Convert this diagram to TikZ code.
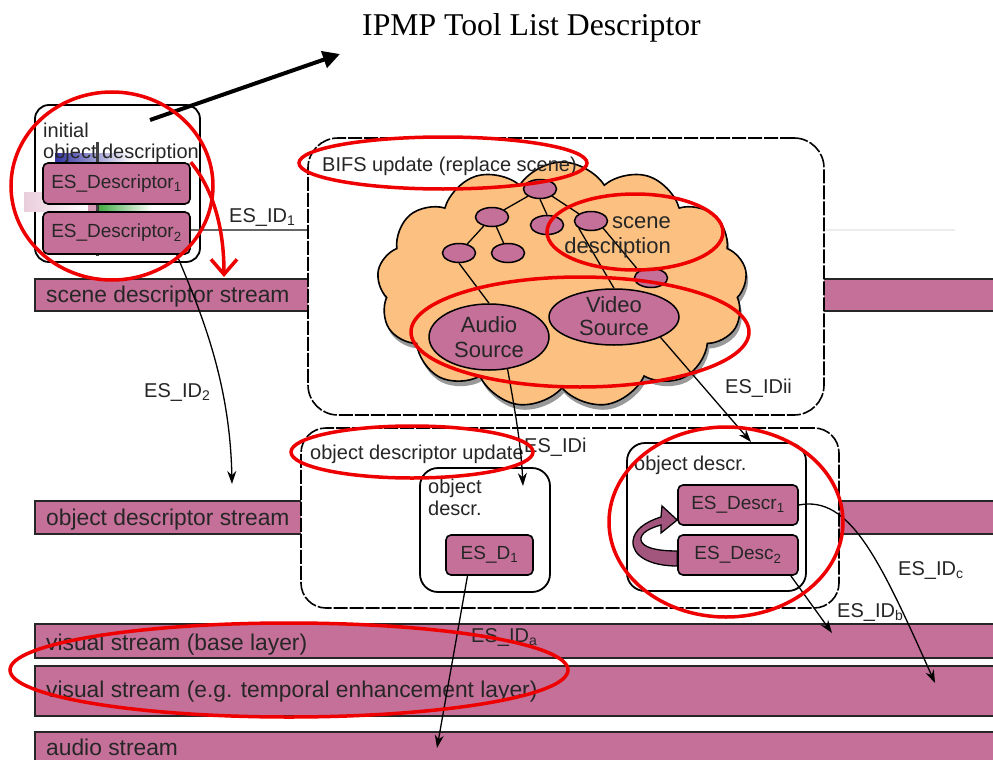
\documentclass[tikz,border=0pt]{standalone}
\usepackage{fontspec}
\setmainfont{Liberation Sans}
\newfontfamily\titleserif{Liberation Serif}
\usetikzlibrary{shapes.geometric,shapes.symbols,arrows.meta}
\definecolor{streampink}{RGB}{196,112,152}
\definecolor{loopmauve}{RGB}{162,86,126}
\definecolor{cloudfill}{RGB}{252,192,128}
\definecolor{markred}{RGB}{238,0,0}
\begin{document}
\begin{tikzpicture}[x=1pt,y=-1pt,
  band/.style={draw=black!85, line width=1.2pt, fill=streampink},
  bandtext/.style={anchor=base west, inner sep=0pt, font=\fontsize{22.8}{24}\selectfont, text=black!85},
  esbox/.style={draw=black, line width=1.6pt, fill=streampink, rounded corners=5pt, inner sep=0pt,
    font=\fontsize{19}{21}\selectfont, text=black!85},
  odbox/.style={draw=black, line width=1.8pt, fill=white, rounded corners=18pt, inner sep=0pt},
  updbox/.style={draw=black, line width=1.6pt, fill=white, dash pattern=on 14pt off 2pt, inner sep=0pt},
  lbl/.style={anchor=base west, inner sep=0pt, font=\fontsize{20}{22}\selectfont, text=black!85},
  biglbl/.style={lbl, font=\fontsize{22}{24}\selectfont},
  sgnode/.style={ellipse, draw=black, line width=1.5pt, fill=streampink, minimum width=33pt,
    minimum height=19pt, inner sep=0pt},
  srcnode/.style={ellipse, draw=black, line width=1.5pt, fill=streampink, inner sep=0pt},
  srctext/.style={anchor=base, inner sep=0pt, font=\fontsize{22}{24}\selectfont, text=black!85},
  sgedge/.style={line width=1.3pt},
  flow/.style={line width=1.3pt, -{Stealth[length=13pt,width=9pt]}},
  redmark/.style={draw=markred, line width=3.5pt},
  cloudshape/.style={cloud, cloud puffs=13, cloud puff arc=115, aspect=1.5, minimum width=370pt,
    minimum height=246pt}
]
\useasboundingbox (0,0) rectangle (993,760);
\clip (0,0) rectangle (993,760);
\fill[white] (0,0) rectangle (993,760);

% heading
\node[anchor=base west, inner sep=0pt, font=\titleserif\fontsize{31.7}{33}\selectfont] (title) at (362,36) {IPMP Tool List Descriptor};

% elementary streams
\path[band] (35,279) rectangle (1000,311);
\path[band] (35,501) rectangle (1000,534);
\path[band] (35,624) rectangle (1000,658);
\path[band] (35,666) rectangle (1000,716);
\path[band] (35,732) rectangle (1000,775);
\node[bandtext] (sds) at (46,302) {scene descriptor stream};
\node[bandtext] (ods) at (46,525) {object descriptor stream};
\node[bandtext] (vsb) at (46,650) {visual stream (base layer)};
\node[bandtext] (vse) at (46,697) {visual stream (e.g. temporal enhancement layer)};
\node[bandtext] (aus) at (46,755) {audio stream};

% initial object descriptor
\node[odbox, rounded corners=14pt, minimum width=165pt, minimum height=157pt] (iod) at (117.5,183.5) {};
\shade[left color=streampink!35, right color=white] (24,192) rectangle (90,211);
\shade[left color=blue!55!black!80, right color=white] (55,153) rectangle (132,163);
\shade[left color=green!55!black!75, right color=white] (97,205) rectangle (152,212);
\fill[streampink!70] (88,205) rectangle (97,212);
\draw[black!75, line width=3pt] (97,142) -- (97,256);
\node[lbl] (iodt1) at (43,137) {initial};
\node[lbl] (iodt2) at (43,158) {object description};
\node[esbox, minimum width=147pt, minimum height=41pt] (esd1) at (116.5,183.5) {ES\_Descriptor\textsubscript{1}};
\node[esbox, minimum width=147pt, minimum height=42pt] (esd2) at (116.5,233) {ES\_Descriptor\textsubscript{2}};

% pointer to the heading
\coordinate (ptrfrom) at (150,120);
\coordinate (ptrto) at (340,54);
\draw[line width=4pt, -{Triangle[length=17pt,width=17pt]}] (ptrfrom) -- (ptrto);

% ES_ID1 link to the scene description
\draw[black!7, line width=2pt] (826,230) -- (955,230);
\coordinate (id1end) at (308,230);
\draw[black!60, line width=2.5pt] ([yshift=3pt]esd2.east) -- (id1end);
\node[lbl] (id1) at (229,222) {ES\_ID\textsubscript{1}};

% BIFS update with the scene graph
\node[updbox, rounded corners=30pt, minimum width=516pt, minimum height=277pt] (bifs) at (566,276.5) {};
\node[cloudshape, fill=black!40] (cloudshadow) at (564,290) {};
\node[cloudshape, draw=black, line width=1.6pt, fill=cloudfill] (cloud) at (562,285) {};
\node[lbl] (bifst) at (322,171) {BIFS update (replace scene)};

\node[sgnode] (root) at (540,189) {};
\node[sgnode] (na) at (492,217) {};
\node[sgnode] (nb) at (547,225) {};
\node[sgnode] (nc) at (591,221) {};
\node[sgnode] (nl1) at (459,253) {};
\node[sgnode] (nl2) at (508,253) {};
\node[sgnode] (nd) at (651,278) {};
\node[srcnode, minimum width=120pt, minimum height=66pt] (asrc) at (489,337) {};
\node[srcnode, minimum width=130pt, minimum height=56pt] (vsrc) at (614,317) {};
\node[srctext] (asrc1) at (489,332) {Audio};
\node[srctext] (asrc2) at (489,357) {Source};
\node[srctext] (vsrc1) at (614,312) {Video};
\node[srctext] (vsrc2) at (614,335) {Source};

\draw[sgedge] (root.south west) -- (na.north east);
\draw[sgedge] (root.south) -- (nb.north);
\draw[sgedge] (root.south east) -- (nc.north west);
\draw[sgedge] (na) -- (nl1);
\draw[sgedge] (na) -- (nl2);
\draw[sgedge] (nl1.south) -- (asrc.north);
\draw[sgedge] (nc.south west) -- (vsrc.north);
\draw[sgedge] (nc.south east) -- (nd.north west);

\node[biglbl, anchor=base east] (scd1) at (671,228) {scene};
\node[biglbl, anchor=base east] (scd2) at (671,253) {description};

% object descriptor update
\node[updbox, rounded corners=25pt, minimum width=538pt, minimum height=180pt] (odu) at (570,518) {};
\node[lbl] (odut) at (310,459) {object descriptor update};

\node[odbox, minimum width=130pt, minimum height=124pt] (odl) at (485,530) {};
\node[lbl] (odl1) at (428,493) {object};
\node[lbl] (odl2) at (428,515) {descr.};
\node[esbox, minimum width=87pt, minimum height=40pt] (esdd1) at (489.5,555) {ES\_D\textsubscript{1}};

\node[odbox, minimum width=179pt, minimum height=148pt] (odr) at (716.5,517) {};
\node[lbl] (odrt) at (634,470) {object descr.};
\node[esbox, minimum width=120pt, minimum height=40pt] (esdr1) at (738,505) {ES\_Descr\textsubscript{1}};
\node[esbox, minimum width=120pt, minimum height=40pt] (esdr2) at (738,555) {ES\_Desc\textsubscript{2}};

% update loop from the second descriptor back to the first
\filldraw[fill=loopmauve, draw=black, line width=1.3pt]
  (esdr2.west |- 0,566) .. controls (650,566) and (632,556) .. (633,541)
  .. controls (634,530) and (645,522) .. (661,517)
  -- (662,506) -- (esdr1.west |- 0,520) -- (661,533) -- (661,525)
  .. controls (650,528) and (640,533) .. (641,540)
  .. controls (642,547) and (655,551) .. (esdr2.west |- 0,551) -- cycle;

% stream assignments
\coordinate (tip2) at (232,484);
\coordinate (tipii) at (751,442);
\coordinate (tipi) at (523,486);
\coordinate (tipa) at (437,748);
\coordinate (tipb) at (832,633);
\coordinate (tipc) at (935,683);
\draw[flow] ([xshift=-14pt]esd2.south east) .. controls (200,310) and (230,380) .. (tip2);
\draw[flow] (vsrc.south east) -- (tipii);
\draw[flow] (asrc.-60) .. controls (515,410) and (521,445) .. (tipi);
\draw[flow] ([xshift=-22pt]esdd1.south) -- (tipa);
\draw[flow] ([xshift=-8pt]esdr2.south east) -- (tipb);
\draw[flow] (esdr1.east) .. controls (850,495) and (880,560) .. (tipc);

\node[lbl] (id2) at (144,397) {ES\_ID\textsubscript{2}};
\node[lbl] (idii) at (725,393) {ES\_IDii};
\node[lbl] (idi) at (524,452) {ES\_IDi};
\node[lbl] (ida) at (471,642) {ES\_ID\textsubscript{a}};
\node[lbl] (idb) at (837,617) {ES\_ID\textsubscript{b}};
\node[lbl] (idc) at (898,575) {ES\_ID\textsubscript{c}};

% red highlights
\draw[redmark] (112,186) ellipse [x radius=101, y radius=94];
\draw[redmark, -{Straight Barb[length=15pt,width=26pt]}] (esd1.north east) .. controls (212,188) and (224,225) .. (224,277);
\draw[redmark] (443,163) ellipse [x radius=144, y radius=26];
\draw[redmark] (635,232) ellipse [x radius=88, y radius=38];
\draw[redmark] (580,332) ellipse [x radius=169, y radius=55];
\draw[redmark] (412,452) ellipse [x radius=121, y radius=26];
\draw[redmark] (726,522) ellipse [x radius=117, y radius=95];
\draw[redmark] (289,670) ellipse [x radius=279, y radius=47];
\end{tikzpicture}
\end{document}
